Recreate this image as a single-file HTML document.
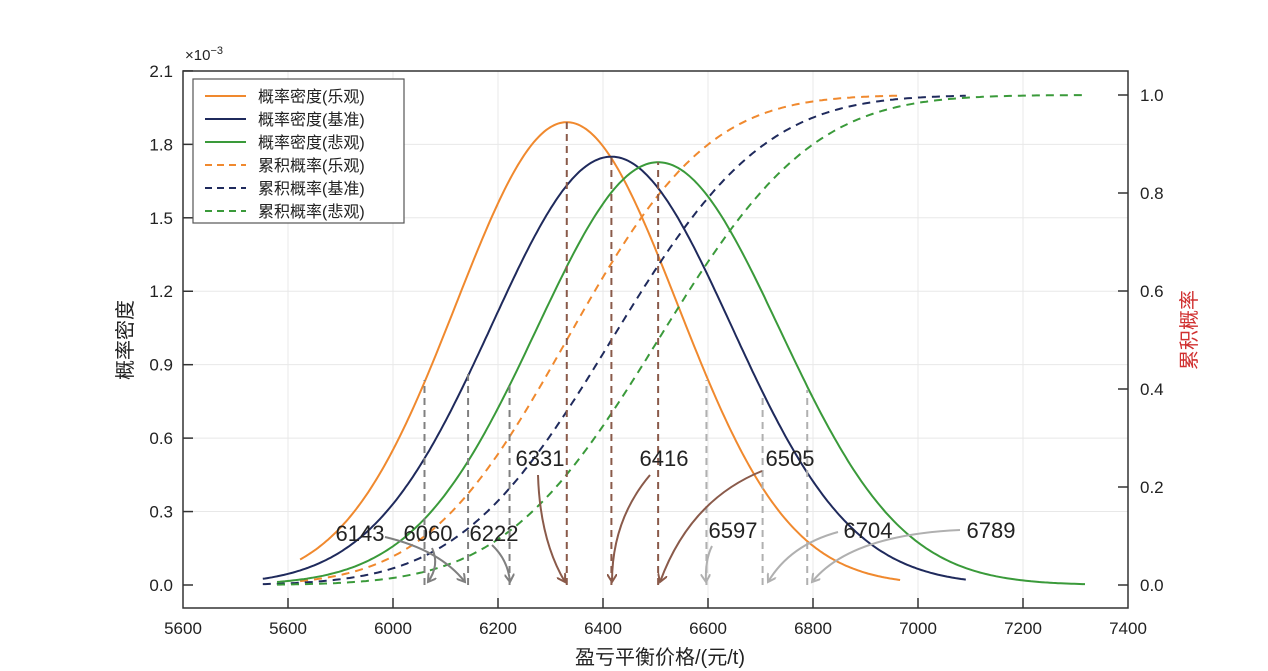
<!DOCTYPE html>
<html><head><meta charset="utf-8"><style>
html,body{margin:0;padding:0;background:#fff;}
svg{display:block;font-family:"Liberation Sans","Noto Sans CJK SC",sans-serif;}
</style></head><body>
<svg id="s" width="1268" height="671" viewBox="0 0 1268 671" xmlns="http://www.w3.org/2000/svg">
<defs>
<marker id="ag" markerWidth="10" markerHeight="10" refX="8" refY="5" orient="auto" markerUnits="userSpaceOnUse"><path d="M0,0 L8,5 L0,10" fill="none" stroke="#808080" stroke-width="2"/></marker>
<marker id="al" markerWidth="10" markerHeight="10" refX="8" refY="5" orient="auto" markerUnits="userSpaceOnUse"><path d="M0,0 L8,5 L0,10" fill="none" stroke="#b0b0b0" stroke-width="2"/></marker>
<marker id="ab" markerWidth="10" markerHeight="10" refX="8" refY="5" orient="auto" markerUnits="userSpaceOnUse"><path d="M0,0 L8,5 L0,10" fill="none" stroke="#8a5a4a" stroke-width="2"/></marker>
</defs>
<g id="grid" stroke="#e8e8e8" stroke-width="1"></g>
<g id="curves"></g>
<g id="ann" font-size="22" fill="#222"></g>
<rect x="183" y="71" width="945" height="537" fill="none" stroke="#333" stroke-width="1.5"/>
<g id="ticks" font-size="17" fill="#222"></g>
<text x="185" y="60" font-size="15" fill="#222">×10<tspan dy="-6" font-size="11">−3</tspan></text>
<text transform="translate(132,340) rotate(-90)" text-anchor="middle" font-size="20" fill="#222">概率密度</text>
<text transform="translate(1196,330) rotate(-90)" text-anchor="middle" font-size="20" fill="#d03030">累积概率</text>
<text x="660" y="664" text-anchor="middle" font-size="20" fill="#222">盈亏平衡价格/(元/t)</text>
<g>
<rect x="193" y="79" width="211" height="144" fill="#fff" stroke="#555" stroke-width="1.2"/>
<g font-size="16" fill="#222">
<line x1="205" y1="96" x2="246" y2="96" stroke="#f0892e" stroke-width="2"/><text x="258" y="102">概率密度(乐观)</text>
<line x1="205" y1="119" x2="246" y2="119" stroke="#1f2a5c" stroke-width="2"/><text x="258" y="125">概率密度(基准)</text>
<line x1="205" y1="142" x2="246" y2="142" stroke="#3a9a3a" stroke-width="2"/><text x="258" y="148">概率密度(悲观)</text>
<line x1="205" y1="165" x2="246" y2="165" stroke="#f0892e" stroke-width="2" stroke-dasharray="7,5"/><text x="258" y="171">累积概率(乐观)</text>
<line x1="205" y1="188" x2="246" y2="188" stroke="#1f2a5c" stroke-width="2" stroke-dasharray="7,5"/><text x="258" y="194">累积概率(基准)</text>
<line x1="205" y1="211" x2="246" y2="211" stroke="#3a9a3a" stroke-width="2" stroke-dasharray="7,5"/><text x="258" y="217">累积概率(悲观)</text>
</g></g>
</svg>
<script>
var NS="http://www.w3.org/2000/svg";
function X(v){return 183+(v-5600)*0.525;}
function YL(d){return 585-d*244.8;}
function YR(p){return 585-p*490;}
function el(t,a,p,txt){var e=document.createElementNS(NS,t);for(var k in a)e.setAttribute(k,a[k]);if(txt!=null)e.textContent=txt;document.getElementById(p).appendChild(e);return e;}
var ticksX=[[5600,"5600"],[5800,"5600"],[6000,"6000"],[6200,"6200"],[6400,"6400"],[6600,"6600"],[6800,"6800"],[7000,"7000"],[7200,"7200"],[7400,"7400"]];
ticksX.forEach(function(t){var x=X(t[0]);if(t[0]>5600&&t[0]<7400)el("line",{x1:x,y1:71,x2:x,y2:608},"grid");
 if(t[0]>5600&&t[0]<7400)el("line",{x1:x,y1:608,x2:x,y2:598,stroke:"#333","stroke-width":1.5},"ticks");
 el("text",{x:x,y:634,"text-anchor":"middle"},"ticks",t[1]);});
for(var i=0;i<=7;i++){var d=i*0.3,y=YL(d);if(i>0&&i<7)el("line",{x1:183,y1:y,x2:1128,y2:y},"grid");
 el("line",{x1:183,y1:y,x2:193,y2:y,stroke:"#333","stroke-width":1.5},"ticks");
 el("text",{x:173,y:y+6,"text-anchor":"end"},"ticks",d.toFixed(1));}
for(var i=0;i<=5;i++){var p=i*0.2,y=YR(p);el("line",{x1:1118,y1:y,x2:1128,y2:y,stroke:"#333","stroke-width":1.5},"ticks");
 el("text",{x:1140,y:y+6},"ticks",p.toFixed(1));}
function pdf(x,m,s){return Math.exp(-0.5*((x-m)/s)**2)/(s*Math.sqrt(2*Math.PI));}
function erf(x){var t=1/(1+0.3275911*Math.abs(x));var y=1-(((((1.061405429*t-1.453152027)*t)+1.421413741)*t-0.284496736)*t+0.254829592)*t*Math.exp(-x*x);return x>=0?y:-y;}
function cdf(x,m,s){return 0.5*(1+erf((x-m)/(s*Math.SQRT2)));}
var S=[{m:6331,s:211,c:"#f0892e",a:5823,b:6966},{m:6416,s:228,c:"#1f2a5c",a:5752,b:7091},{m:6505,s:231,c:"#3a9a3a",a:5779,b:7318}];
S.forEach(function(o){var p1="",p2="";for(var i=0;i<=300;i++){var v=o.a+(o.b-o.a)*i/300;
 p1+=(i?"L":"M")+X(v).toFixed(1)+","+YL(pdf(v,o.m,o.s)*1000).toFixed(1);
 p2+=(i?"L":"M")+X(v).toFixed(1)+","+YR(cdf(v,o.m,o.s)).toFixed(1);}
 el("path",{d:p2,fill:"none",stroke:o.c,"stroke-width":2,"stroke-dasharray":"8,6"},"curves");
 el("path",{d:p1,fill:"none",stroke:o.c,"stroke-width":2},"curves");});
var V=[[6060,380,"#808080"],[6143,372,"#808080"],[6222,385,"#808080"],[6331,YL(pdf(6331,6331,211)*1000),"#8a5a4a"],[6416,YL(pdf(6416,6416,228)*1000),"#8a5a4a"],[6505,YL(pdf(6505,6505,231)*1000),"#8a5a4a"],[6597,380,"#b0b0b0"],[6704,395,"#b0b0b0"],[6789,390,"#b0b0b0"]];
V.forEach(function(v){el("line",{x1:X(v[0]),y1:585,x2:X(v[0]),y2:v[1],stroke:v[2],"stroke-width":2,"stroke-dasharray":"7,5"},"curves");});
var A=[["6143",360,541,"M385,537 Q440,550 465,582","ag","#808080"],["6060",428,541,"M432,548 Q440,565 428,582","ag","#808080"],["6222",494,541,"M492,545 Q508,560 510,582","ag","#808080"],
["6331",540,466,"M538,475 Q540,540 565,582","ab","#8a5a4a"],["6416",664,466,"M650,475 Q612,520 612,582","ab","#8a5a4a"],["6505",790,466,"M762,471 Q690,500 660,582","ab","#8a5a4a"],
["6597",733,538,"M712,546 Q705,560 706,582","al","#b0b0b0"],["6704",868,538,"M838,532 Q790,545 768,582","al","#b0b0b0"],["6789",991,538,"M960,530 Q850,535 812,582","al","#b0b0b0"]];
A.forEach(function(a){el("path",{d:a[3],fill:"none",stroke:a[5],"stroke-width":2,"marker-end":"url(#"+a[4]+")"},"ann");
 el("text",{x:a[1],y:a[2],"text-anchor":"middle"},"ann",a[0]);});
</script>
</body></html>
